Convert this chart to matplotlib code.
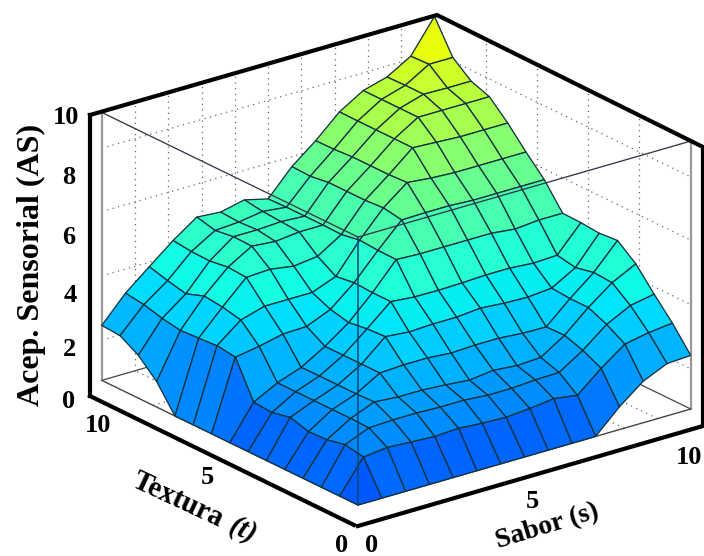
import numpy as np
import matplotlib
matplotlib.use("Agg")
import matplotlib.pyplot as plt
from matplotlib.lines import Line2D
from mpl_toolkits.mplot3d import proj3d

sabor = np.linspace(0, 10, 15)
textura = np.linspace(0, 10, 15)
z_t00 = [0,0,0,0,0,0,0,0,0,0,0,.85,1.55,1.95,2.0]
z_t01 = [0,1.2,1.3,1.25,1.2,1.25,1.18,1.15,1.22,1.33,1.2,1.95,2.6,2.77,2.87]
z_t02 = [0,1.33,1.7,1.74,1.74,1.71,1.71,1.64,1.64,1.7,1.72,2.29,3.0,3.45,3.62]
z_t03 = [0,1.18,1.72,2.08,2.01,2.01,1.95,1.87,1.98,1.9,1.95,2.52,3.3,3.97,4.42]
z_t04 = [0,1.15,1.72,2.05,2.57,2.62,2.62,2.55,2.59,2.59,2.52,2.5,3.3,4.02,4.96]
z_t05 = [0,1.35,1.72,2.05,2.57,3.34,3.26,3.3,3.3,3.38,3.31,3.28,3.36,3.87,4.9]
z_t06 = [0,1.2,1.72,2.05,2.57,3.3,4.06,3.98,3.97,3.99,4.03,4.03,3.96,4.0,4.96]
z_t07 = [0,1.25,1.72,2.04,2.57,3.2,4.06,5.04,5.0,5.0,5.0,5.0,4.9,4.98,4.98]
z_t08 = [0,2.6,2.75,2.95,2.98,3.36,4.1,5.05,5.93,5.95,5.95,5.9,5.9,5.9,5.9]
z_t09 = [0,2.7,3.4,3.66,3.66,3.66,4.0,5.1,6.05,6.74,6.65,6.6,6.6,6.6,6.6]
z_t10 = [0,2.65,3.55,4.4,4.45,4.31,4.42,4.98,6.0,6.7,7.45,7.4,7.35,7.35,7.35]
z_t11 = [.95,2.6,3.63,4.45,4.98,4.9,5.0,5.0,6.0,6.7,7.45,8.0,8.0,8.0,8.0]
z_t12 = [1.6,2.72,3.38,4.35,5.0,5.0,5.05,5.0,6.0,6.7,7.45,8.0,8.27,8.25,8.25]
z_t13 = [2.0,2.9,3.54,4.37,4.9,4.96,5.1,5.0,5.9,6.65,7.45,8.0,8.27,8.8,8.8]
z_t14 = [2.05,3.0,3.73,4.45,5.07,5.0,5.2,4.98,5.93,6.64,7.46,8.0,8.25,8.77,10]
Z = np.array([z_t00,z_t01,z_t02,z_t03,z_t04,z_t05,z_t06,z_t07,z_t08,z_t09,
              z_t10,z_t11,z_t12,z_t13,z_t14], dtype=float)
z_ticks = [0, 2, 4, 6, 8, 10]
wall_z_grid = [1.5, 3.9, 6.3, 8.66]
s_grid = [1, 2, 3, 4, 5, 6, 7, 8, 9]
t_grid = [2, 4, 6, 8]

W, H = 704, 556
fig = plt.figure(figsize=(W/100, H/100), dpi=100)
ax = fig.add_axes([0, 0, 1, 1], projection="3d", proj_type="ortho", computed_zorder=False)
ax.view_init(elev=22, azim=-127.6)
ax.set_xlim(0, 10); ax.set_ylim(0, 10); ax.set_zlim(0, 10)
ax.set_box_aspect((420, 420, 289), zoom=1.0)
ax.set_axis_off()
ax.patch.set_alpha(0)

def px(x, y, z):
    X, Y, _ = proj3d.proj_transform(x, y, z, ax.get_proj())
    p = ax.transData.transform((X, Y))
    return np.array([p[0], H - p[1]])
zoom = 1.0
fig.canvas.draw()
for _ in range(4):
    span = px(10, 0, 0)[0] - px(0, 10, 0)[0]
    zoom *= (691 - 102) / span
    ax.set_box_aspect((420, 420, 289), zoom=zoom)
    fig.canvas.draw()
for _ in range(4):
    d = np.array([358, 505]) - px(0, 0, 0)
    pos = ax.get_position()
    ax.set_position([pos.x0 + d[0]/W, pos.y0 - d[1]/H, pos.width, pos.height])
    fig.canvas.draw()

# colour each facet from its mean height through the reference's part of the jet range
S, T = np.meshgrid(sabor, textura)
facet_mean = 0.25 * (Z[:-1, :-1] + Z[1:, :-1] + Z[:-1, 1:] + Z[1:, 1:])
face_grid = np.ones(Z.shape + (4,))
face_grid[:-1, :-1] = plt.get_cmap("jet")(np.interp(facet_mean, [0, 6, 10], [.2, .46, .68]))
surf = ax.plot_surface(S, T, Z, rstride=1, cstride=1, facecolors=face_grid, shade=False,
                       edgecolor=(0.08, 0.2, 0.25), linewidth=0.95, antialiased=True, zorder=3)
surf.set_clip_on(False)

def line3(xs, ys, zs, **kw):
    ln, = ax.plot(xs, ys, zs, **kw)
    ln.set_clip_on(False)

dot = dict(color="#666666", lw=0.9, ls=(0, (1, 3.5)), zorder=1)
for g in wall_z_grid:
    line3([0, 10], [10, 10], [g, g], **dot)
    line3([10, 10], [10, 0], [g, g], **dot)
for g in s_grid:
    line3([g, g], [10, 10], [0, 10], **dot)
    line3([g, g], [0, 10], [0, 0], **dot)
for g in t_grid:
    line3([10, 10], [g, g], [0, 10], **dot)
    line3([0, 10], [g, g], [0, 0], **dot)
thin = dict(color="#444444", lw=0.9, zorder=1)
line3([0, 10], [10, 10], [0, 0], **thin)
line3([10, 10], [0, 10], [0, 0], **thin)
side = dict(color="#999999", lw=1.6, zorder=2)
line3([0, 0], [10, 10], [0, 10], **side)
line3([10, 10], [0, 0], [0, 10], **side)
line3([0, 0], [0, 10], [0, 0], color="#444444", lw=1.0, zorder=2)
line3([0, 10], [0, 0], [0, 0], color="#444444", lw=1.0, zorder=2)
front = dict(color=(0.2, 0.22, 0.28), lw=0.95, zorder=5)
line3([0, 0], [0, 0], [0, 10], color=(0.0, 0.27, 0.45), lw=1.1, zorder=5)
line3([0, 10], [0, 0], [10, 10], **front)
line3([0, 0], [0, 10], [10, 10], **front)

def fline(xs, ys):
    fig.add_artist(Line2D(np.array(xs)/W, 1 - np.array(ys)/H, color="black", lw=3.0,
                          solid_capstyle="projecting", solid_joinstyle="miter", zorder=10))
fline([90, 90], [396, 115])
fline([90, 437, 703, 703], [115, 15, 147, 426])
fline([90, 354], [396, 525])
fline([358, 703], [526, 426])

serif = dict(family="Liberation Serif", weight="bold", color="black", zorder=11, ha="center", va="center")
def ftext(x, y, s, size=19, rot=0, **kw):
    fig.text(x/W, 1 - y/H, s, fontsize=size, rotation=rot, rotation_mode="anchor", **{**serif, **kw})
for t, x, y in zip(z_ticks, [69, 70, 70, 69, 69, 66], [402, 350, 295, 238, 178, 117]):
    ftext(x, y, str(t))
for s, x, y in [("0", 372, 545), ("5", 532, 502), ("10", 689, 457),
                ("0", 342, 545), ("5", 207, 477), ("10", 98, 425)]:
    ftext(x, y, s)
ftext(31, 265, "Acep. Sensorial (AS)", size=23, rot=90)
ftext(178, 500, "Textura", size=21, rot=-25)
ftext(243, 531, "(t)", size=21, rot=-25, style="italic")
ftext(547, 527, "Sabor (s)", size=20, rot=17)

fig.savefig("out.png", dpi=100)
